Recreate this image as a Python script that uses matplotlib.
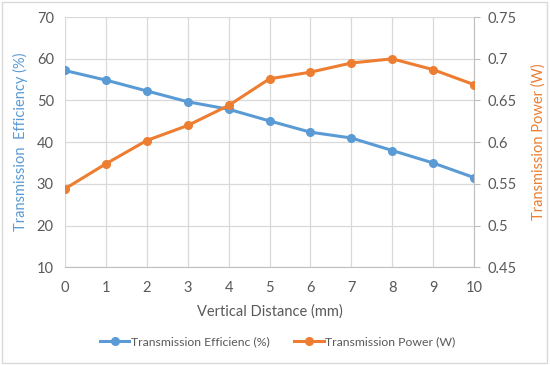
import matplotlib
matplotlib.use("Agg")
import matplotlib.pyplot as plt
from matplotlib.patches import Rectangle

plt.rcParams['font.family'] = ['Lato', 'DejaVu Sans']

# data
distance = [0, 1, 2, 3, 4, 5, 6, 7, 8, 9, 10]
efficiency = [57.2, 54.9, 52.3, 49.7, 47.9, 45.1, 42.4, 41.0, 38.0, 35.0, 31.5]
power = [0.544, 0.574, 0.602, 0.620, 0.644, 0.676, 0.684, 0.695, 0.700, 0.687, 0.669]

blue = '#5B9BD5'
orange = '#ED7D31'
txt = '#595959'
grid = '#D9D9D9'

fig = plt.figure(figsize=(5.5, 3.65), dpi=100)
ax = fig.add_axes([0.118, 0.268, 0.744, 0.685])
ax2 = ax.twinx()

l1, = ax.plot(distance, efficiency, color=blue, lw=2.2, marker='o', ms=5.5,
              label='Transmission Efficienc (%)', zorder=3)
l2, = ax2.plot(distance, power, color=orange, lw=2.2, marker='o', ms=5.5,
               label='Transmission Power (W)', zorder=3)

ax.set_xlim(0, 10)
ax.set_ylim(10, 70)
ax2.set_ylim(0.45, 0.75)
ax.set_xticks(range(0, 11))
ax.set_yticks(range(10, 71, 10))
ax2.set_yticks([0.45, 0.5, 0.55, 0.6, 0.65, 0.7, 0.75])
ax2.set_yticklabels(['0.45', '0.5', '0.55', '0.6', '0.65', '0.7', '0.75'])

ax.grid(True, color=grid, lw=0.9)
ax.set_axisbelow(True)
for s in ['top', 'left']:
    ax.spines[s].set_visible(False)
    ax2.spines[s].set_visible(False)
ax.spines['right'].set_visible(False)
ax.spines['bottom'].set_color('#BFBFBF')
ax2.spines['bottom'].set_visible(False)
ax2.spines['right'].set_color('#BFBFBF')

ax.tick_params(axis='y', length=0, labelsize=10.5, labelcolor=txt, pad=8)
ax.tick_params(axis='x', length=0, labelsize=10.5, labelcolor=txt, pad=10)
ax2.tick_params(axis='y', length=4, color='#BFBFBF', labelsize=10.5, labelcolor=txt, pad=6)

ax.set_xlabel('Vertical Distance (mm)', fontsize=10.5, color=txt, labelpad=7)
ax.set_ylabel('Transmission  Efficiency (%)', fontsize=10.5, color=blue, labelpad=6)
ax2.set_ylabel('Transmission Power (W)', fontsize=10.5, color=orange, labelpad=10)

fig.legend(handles=[l1, l2], loc='center', bbox_to_anchor=(0.505, 0.063), ncol=2,
           frameon=False, fontsize=8.8, labelcolor=txt, handlelength=2.4,
           columnspacing=2.0, handletextpad=0.15)

fig.patches.append(Rectangle((0.004, 0.006), 0.99, 0.988, transform=fig.transFigure,
                             fill=False, edgecolor='#D9D9D9', lw=1))

fig.savefig('out.png', dpi=100)
